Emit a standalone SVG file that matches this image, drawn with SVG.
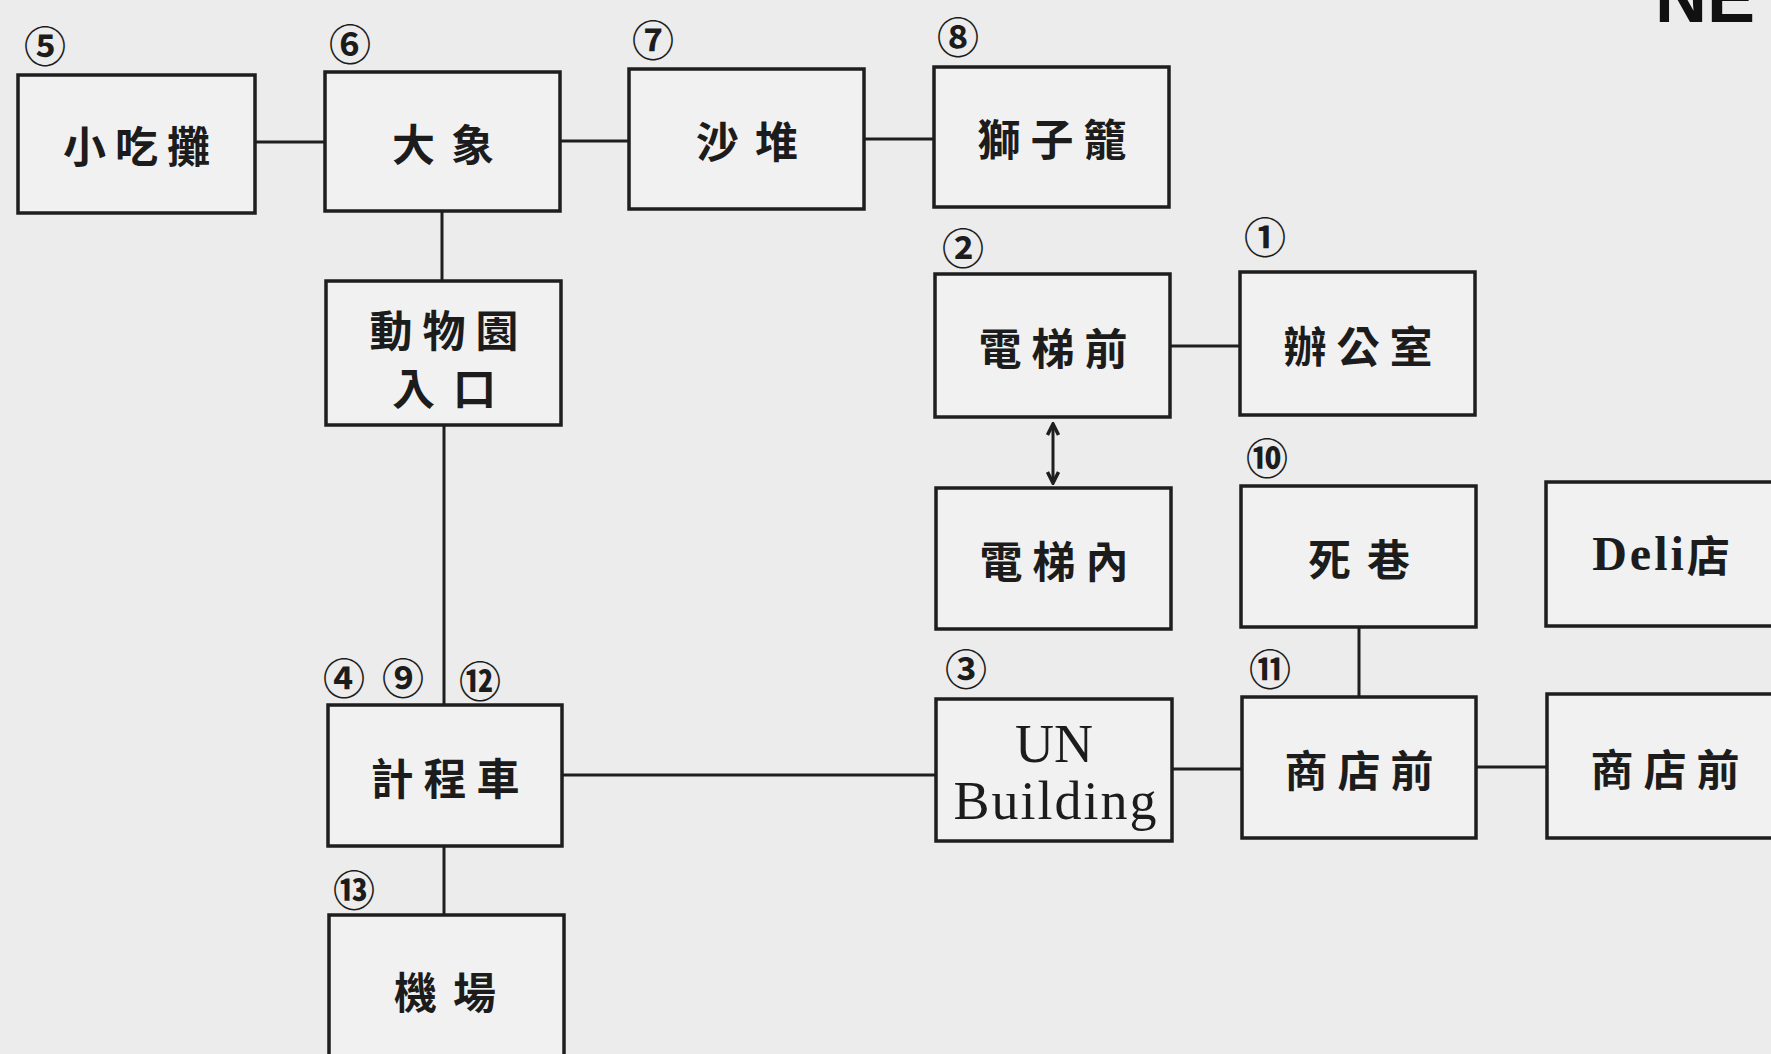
<svg xmlns="http://www.w3.org/2000/svg" width="1771" height="1054" viewBox="0 0 1771 1054">
<defs>
<style>
.box{fill:#f1f1f1;stroke:#1e1e1e;stroke-width:3.5}
.lbl{font-family:"Noto Sans CJK TC","Noto Sans CJK SC",sans-serif;font-size:43px;font-weight:700;fill:#1c1c1c;text-anchor:middle;dominant-baseline:central}
.num{font-family:"Noto Sans CJK TC","DejaVu Sans",sans-serif;font-size:42px;font-weight:700;fill:#1c1c1c;text-anchor:middle;dominant-baseline:central}
.en{font-family:"Liberation Serif",serif;fill:#1c1c1c;text-anchor:middle}
.con{stroke:#1e1e1e;stroke-width:3;fill:none}
</style>
<marker id="ah" viewBox="0 0 14 14" refX="12" refY="7" markerWidth="14" markerHeight="14" markerUnits="userSpaceOnUse" orient="auto-start-reverse">
<path d="M1,1.5 L12,7 L1,12.5" fill="none" stroke="#1e1e1e" stroke-width="3.5" stroke-linejoin="miter"/>
</marker>
</defs>
<rect x="0" y="0" width="1771" height="1054" fill="#ececec"/>
<text x="1655" y="22" font-family="Liberation Sans, sans-serif" font-size="72" font-weight="700" fill="#111">NE</text>

<g id="connectors">
<line class="con" x1="255" y1="142" x2="325" y2="142"/>
<line class="con" x1="560" y1="141" x2="629" y2="141"/>
<line class="con" x1="864" y1="139" x2="934" y2="139"/>
<line class="con" x1="442" y1="211" x2="442" y2="281"/>
<line class="con" x1="444" y1="425" x2="444" y2="705"/>
<line class="con" x1="444" y1="846" x2="444" y2="915"/>
<line class="con" x1="562" y1="775" x2="936" y2="775"/>
<line class="con" x1="1170" y1="346" x2="1240" y2="346"/>
<line class="con" x1="1053" y1="424" x2="1053" y2="483" stroke-width="3.5" marker-start="url(#ah)" marker-end="url(#ah)"/>
<line class="con" x1="1359" y1="627" x2="1359" y2="697"/>
<line class="con" x1="1172" y1="769" x2="1242" y2="769"/>
<line class="con" x1="1476" y1="767" x2="1547" y2="767"/>
</g>

<g id="n5">
<rect class="box" x="18" y="75" width="237" height="138"/>
<text class="lbl" x="141" y="144" letter-spacing="9">小吃攤</text>
<text class="num" x="45" y="43">⑤</text>
</g>
<g id="n6">
<rect class="box" x="325" y="72" width="235" height="139"/>
<text class="lbl" x="451" y="142" letter-spacing="16">大象</text>
<text class="num" x="350" y="41">⑥</text>
</g>
<g id="n7">
<rect class="box" x="629" y="69" width="235" height="140"/>
<text class="lbl" x="755" y="139" letter-spacing="16">沙堆</text>
<text class="num" x="653" y="37">⑦</text>
</g>
<g id="n8">
<rect class="box" x="934" y="67" width="235" height="140"/>
<text class="lbl" x="1057" y="137" letter-spacing="10">獅子籠</text>
<text class="num" x="958" y="34">⑧</text>
</g>
<g id="zoo">
<rect class="box" x="326" y="281" width="235" height="144"/>
<text class="lbl" x="449" y="328" font-size="41" letter-spacing="10">動物園</text>
<text class="lbl" x="453" y="386" font-size="41" letter-spacing="18">入口</text>
</g>
<g id="n2">
<rect class="box" x="935" y="274" width="235" height="143"/>
<text class="lbl" x="1058" y="346" letter-spacing="10">電梯前</text>
<text class="num" x="963" y="245">②</text>
</g>
<g id="n1">
<rect class="box" x="1240" y="272" width="235" height="143"/>
<text class="lbl" x="1363" y="344" letter-spacing="10">辦公室</text>
<text class="num" x="1265" y="234">①</text>
</g>
<g id="elev-in">
<rect class="box" x="936" y="488" width="235" height="141"/>
<text class="lbl" x="1059" y="559" letter-spacing="10">電梯內</text>
</g>
<g id="n10">
<rect class="box" x="1241" y="486" width="235" height="141"/>
<text class="lbl" x="1367" y="557" letter-spacing="16">死巷</text>
<text class="num" x="1267" y="455">⑩</text>
</g>
<g id="deli">
<rect class="box" x="1546" y="482" width="240" height="144"/>
<text x="1661" y="553" dominant-baseline="central" text-anchor="middle" fill="#1c1c1c"><tspan font-family="Liberation Serif, serif" font-size="48" font-weight="700" letter-spacing="3">Deli</tspan><tspan font-family="Noto Sans CJK TC, sans-serif" font-size="43" font-weight="700">店</tspan></text>
</g>
<g id="taxi">
<rect class="box" x="328" y="705" width="234" height="141"/>
<text class="lbl" x="450" y="776" letter-spacing="10">計程車</text>
<text class="num" x="344" y="675">④</text>
<text class="num" x="403" y="675">⑨</text>
<text class="num" x="480" y="678">⑫</text>
</g>
<g id="n3">
<rect class="box" x="936" y="699" width="236" height="142"/>
<text class="en" x="1054" y="762" font-size="54">UN</text>
<text class="en" x="1056" y="819" font-size="54" letter-spacing="2">Building</text>
<text class="num" x="966" y="666">③</text>
</g>
<g id="n11">
<rect class="box" x="1242" y="697" width="234" height="141"/>
<text class="lbl" x="1364" y="768" letter-spacing="10">商店前</text>
<text class="num" x="1270" y="666">⑪</text>
</g>
<g id="shop2">
<rect class="box" x="1547" y="694" width="240" height="144"/>
<text class="lbl" x="1670" y="767" letter-spacing="10">商店前</text>
</g>
<g id="n13">
<rect class="box" x="329" y="915" width="235" height="150"/>
<text class="lbl" x="453" y="990" letter-spacing="16">機場</text>
<text class="num" x="354" y="887">⑬</text>
</g>
</svg>
